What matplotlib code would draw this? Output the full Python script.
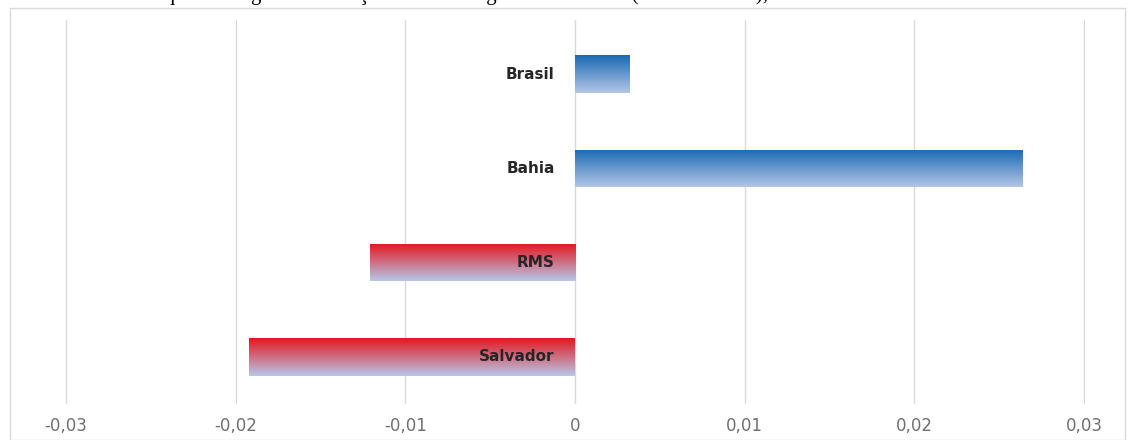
import numpy as np
import matplotlib
matplotlib.use('Agg')
import matplotlib.pyplot as plt
from matplotlib.colors import to_rgb
from matplotlib.patches import Rectangle

# data
regioes = ['Brasil', 'Bahia', 'RMS', 'Salvador']
taxas = [0.0032, 0.0264, -0.0121, -0.0192]
ticks = [-0.03, -0.02, -0.01, 0, 0.01, 0.02, 0.03]
tick_labels = ['-0,03', '-0,02', '-0,01', '0', '0,01', '0,02', '0,03']
titulo = 'Gráfico 3 – Taxa líquida de água com relação à taxa intergeracional Norte (% de décimos),'

azul_topo, azul_base = '#1B6AB2', '#B3C5E8'
verm_topo, verm_base = '#E5171F', '#B6C7E8'


def gradiente(topo, base, n=64):
    a, b = np.array(to_rgb(topo)), np.array(to_rgb(base))
    t = np.linspace(0, 1, n)[:, None]
    return (a * (1 - t) + b * t)[:, None, :]


fig = plt.figure(figsize=(11.32, 4.4), dpi=100)

# clipped caption at the very top (only the lower part shows, as in the source)
fig.text(0.006, 1 - 5 / 440, titulo, fontsize=15, family='Liberation Serif',
         va='bottom', ha='left', color='black')

# light chart frame
fig.patches.append(Rectangle((10 / 1132, 0.0), 1125 / 1132 - 10 / 1132, 1 - 8 / 440,
                             transform=fig.transFigure, fill=False,
                             edgecolor='#d9d9d9', linewidth=1.0))

ax = fig.add_axes([65 / 1132, 1 - 404 / 440, 1020 / 1132, 384 / 440])

y = np.arange(len(regioes))
bars = ax.barh(y, taxas, height=0.4, facecolor='none', edgecolor='none')

for rect, v in zip(bars.patches, taxas):
    x0, x1 = sorted([rect.get_x(), rect.get_x() + rect.get_width()])
    y0 = rect.get_y()
    y1 = y0 + rect.get_height()
    cores = gradiente(azul_topo, azul_base) if v > 0 else gradiente(verm_topo, verm_base)
    im = ax.imshow(cores, extent=(x0, x1, y1, y0), origin='upper',
                   aspect='auto', interpolation='bilinear', zorder=2)
    im.set_clip_path(rect)

ax.set_xlim(-0.03006, 0.03006)
ax.set_ylim(3 + 47 / 94, -54 / 94)

for yi, nome in zip(y, regioes):
    ax.text(-0.0012, yi, nome, ha='right', va='center', fontsize=11,
            fontweight='bold', color='#262626', zorder=3)

ax.set_xticks(ticks)
ax.set_xticklabels(tick_labels, fontsize=12, color='#707070')
ax.tick_params(axis='x', length=0, pad=9)
ax.set_yticks([])
ax.grid(axis='x', color='#d9d9d9', linewidth=1.0)
ax.set_axisbelow(True)
for s in ax.spines.values():
    s.set_visible(False)

fig.savefig('out.png', dpi=100)
